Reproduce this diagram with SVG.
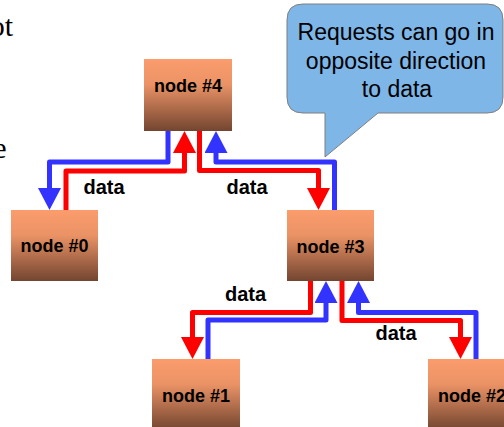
<svg xmlns="http://www.w3.org/2000/svg" width="504" height="427" viewBox="0 0 504 427">
<style>
.bg{font-family:"Liberation Serif","Times New Roman",serif;font-size:30px;fill:#000}
.red{fill:none;stroke:#FF0000;stroke-width:5;stroke-linejoin:round}
.blue{fill:none;stroke:#3333FF;stroke-width:5;stroke-linejoin:round}
.red{marker-end:url(#ahR)}
.blue{marker-end:url(#ahB)}
.box{fill:url(#g)}
.nl{font-family:"Liberation Sans",Arial,sans-serif;font-weight:bold;font-size:18px;fill:#000;text-anchor:middle}
.dl{font-family:"Liberation Sans",Arial,sans-serif;font-weight:bold;font-size:20px;fill:#000;text-anchor:middle}
.cl{font-family:"Liberation Sans",Arial,sans-serif;font-size:23px;fill:#000;text-anchor:middle}
</style>
<defs>
<linearGradient id="g" x1="0" y1="0" x2="0" y2="1">
<stop offset="0" stop-color="#FB9C6C"/>
<stop offset="0.35" stop-color="#EB9366"/>
<stop offset="1" stop-color="#734530"/>
</linearGradient>
<marker id="ahR" viewBox="0 0 22 23" refX="0" refY="11.5" markerWidth="22" markerHeight="23" markerUnits="userSpaceOnUse" orient="auto"><path d="M0,0 L22,11.5 L0,23 Z" fill="#FF0000"/></marker>
<marker id="ahB" viewBox="0 0 22 23" refX="0" refY="11.5" markerWidth="22" markerHeight="23" markerUnits="userSpaceOnUse" orient="auto"><path d="M0,0 L22,11.5 L0,23 Z" fill="#3333FF"/></marker>
</defs>
<text class="bg" x="13" y="36" text-anchor="end">ot</text>
<text class="bg" x="6.5" y="158" text-anchor="end">e</text>
<g id="connectors">
<path class="blue" d="M168,131 V162 H49.5 V188"/>
<path class="red" d="M66,210 V171 H184.5 V153"/>
<path class="red" d="M199.5,131 V170.5 H318.5 V188"/>
<path class="blue" d="M334.5,210 V162 H216 V153"/>
<path class="red" d="M310.5,281 V312.5 H192.5 V337"/>
<path class="blue" d="M208,359 V320 H326 V303"/>
<path class="red" d="M342,281 V320.5 H460.5 V337"/>
<path class="blue" d="M476,359 V312.5 H358.5 V303"/>
<text class="dl" x="104" y="194">data</text>
<text class="dl" x="247" y="194">data</text>
<text class="dl" x="245.5" y="300.5">data</text>
<text class="dl" x="396" y="339.5">data</text>
</g>
<g id="node4"><rect class="box" x="144" y="59" width="88" height="72"/><text class="nl" x="188" y="91.5">node #4</text></g>
<g id="node0"><rect class="box" x="11" y="210" width="87" height="71"/><text class="nl" x="54.5" y="251.7">node #0</text></g>
<g id="node3"><rect class="box" x="287" y="210" width="87" height="71"/><text class="nl" x="330.5" y="252.7">node #3</text></g>
<g id="node1"><rect class="box" x="152" y="359" width="88" height="71"/><text class="nl" x="196" y="401.7">node #1</text></g>
<g id="node2"><rect class="box" x="428" y="359" width="88" height="71"/><text class="nl" x="472" y="401.7">node #2</text></g>
<g id="callout">
<path d="M303,4 H487 Q503,4 503,20 V97 Q503,113 487,113 H378 L325,157 V113 H303 Q287,113 287,97 V20 Q287,4 303,4 Z" fill="#7EB6E8" stroke="#7F7F7F" stroke-width="1"/>
<text class="cl" x="396" y="40">Requests can go in</text>
<text class="cl" x="396" y="68.5">opposite direction</text>
<text class="cl" x="397" y="97">to data</text>
</g>
</svg>
